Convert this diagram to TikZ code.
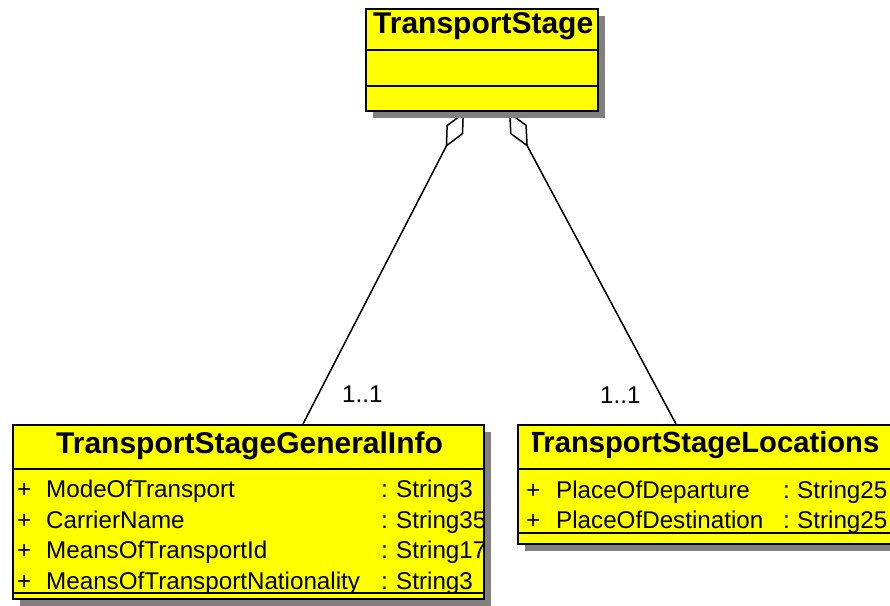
\documentclass[tikz,border=0pt]{standalone}
\usepackage{fontspec}
\setmainfont{Liberation Sans}
\usetikzlibrary{arrows.meta,backgrounds}

\definecolor{umlyellow}{RGB}{255,255,0}
\definecolor{umlshadow}{RGB}{128,128,128}

\tikzset{
  umlbox/.style={draw=black, line width=1.8pt, fill=umlyellow, rectangle,
    inner sep=0pt, anchor=north west},
  boxshadow/.style={fill=umlshadow, draw=none},
  title/.style={font=\fontsize{30}{31}\selectfont\bfseries, inner sep=0pt, anchor=base west},
  attr/.style={font=\fontsize{24.2}{25}\selectfont, inner sep=0pt, anchor=base west},
  sepline/.style={line width=1.8pt},
  assoc/.style={line width=1.5pt, -{Diamond[open, length=40pt, width=19pt, line width=1.5pt]}},
}

\begin{document}
\begin{tikzpicture}[x=1pt, y=-1pt]
  \useasboundingbox (0,0) rectangle (890,605);
  \begin{scope}
  \clip (0,0) rectangle (890,605);

  % shadows
  \fill[boxshadow] (373,16) rectangle (605,118);
  \fill[boxshadow] (20,432) rectangle (491,606);
  \fill[boxshadow] (525,432) rectangle (908,551);

  % class TransportStage
  \node[umlbox, minimum width=232pt, minimum height=102pt] (ts) at (365,8) {};
  \node[title] (tsname) at (373,33) {TransportStage};
  \draw[sepline] (ts.west |- 0,50) -- (ts.east |- 0,50);
  \draw[sepline] (ts.west |- 0,86) -- (ts.east |- 0,86);

  % class TransportStageGeneralInfo
  \node[umlbox, minimum width=471pt, minimum height=174pt] (gen) at (12,424) {};
  \node[title] (genname) at (56,453) {TransportStageGeneralInfo};
  \draw[sepline] (gen.west |- 0,469) -- (gen.east |- 0,469);
  \draw[sepline] (gen.west |- 0,593) -- (gen.east |- 0,593);
  \foreach \n/\y/\name/\type in {1/497/ModeOfTransport/String3,
                                 2/528/CarrierName/String35,
                                 3/558/MeansOfTransportId/String17,
                                 4/589/MeansOfTransportNationality/String3}{
    \node[attr] (genvis\n) at (17,\y) {+};
    \node[attr] (genattr\n) at (46,\y) {\name};
    \node[attr] (gencolon\n) at (381,\y) {:};
    \node[attr] (gentype\n) at (396,\y) {\type};
  }

  % class TransportStageLocations (title cut at the left by its compartment)
  \node[umlbox, minimum width=383pt, minimum height=119pt] (loc) at (517,424) {};
  \begin{scope}
    \clip (532,426) rectangle (900,466);
    \node[title, font=\fontsize{29.2}{30}\selectfont\bfseries] (locname) at (527,452) {TransportStageLocations};
  \end{scope}
  \draw[sepline] (loc.west |- 0,469) -- (loc.east |- 0,469);
  \draw[sepline] (loc.west |- 0,533) -- (loc.east |- 0,533);
  \foreach \n/\y/\name in {1/498/PlaceOfDeparture, 2/528/PlaceOfDestination}{
    \node[attr] (locvis\n) at (526,\y) {+};
    \node[attr] (locattr\n) at (556,\y) {\name};
    \node[attr] (loccolon\n) at (783,\y) {:};
    \node[attr] (loctype\n) at (797,\y) {String25};
  }

  % aggregation ends on the owning class
  \coordinate (aggl) at ([xshift=99pt]ts.south west);
  \coordinate (aggr) at ([xshift=144pt]ts.south west);
  \coordinate (genend) at ([xshift=291pt]gen.north west);
  \coordinate (locend) at ([xshift=159pt]loc.north west);

  \begin{scope}[on background layer]
    \draw[assoc] (genend) -- (aggl);
    \draw[assoc] (locend) -- (aggr);
  \end{scope}

  % multiplicities
  \node[attr] (mulgen) at (342,402) {1..1};
  \node[attr] (mulloc) at (600,403) {1..1};
  \end{scope}
\end{tikzpicture}
\end{document}
